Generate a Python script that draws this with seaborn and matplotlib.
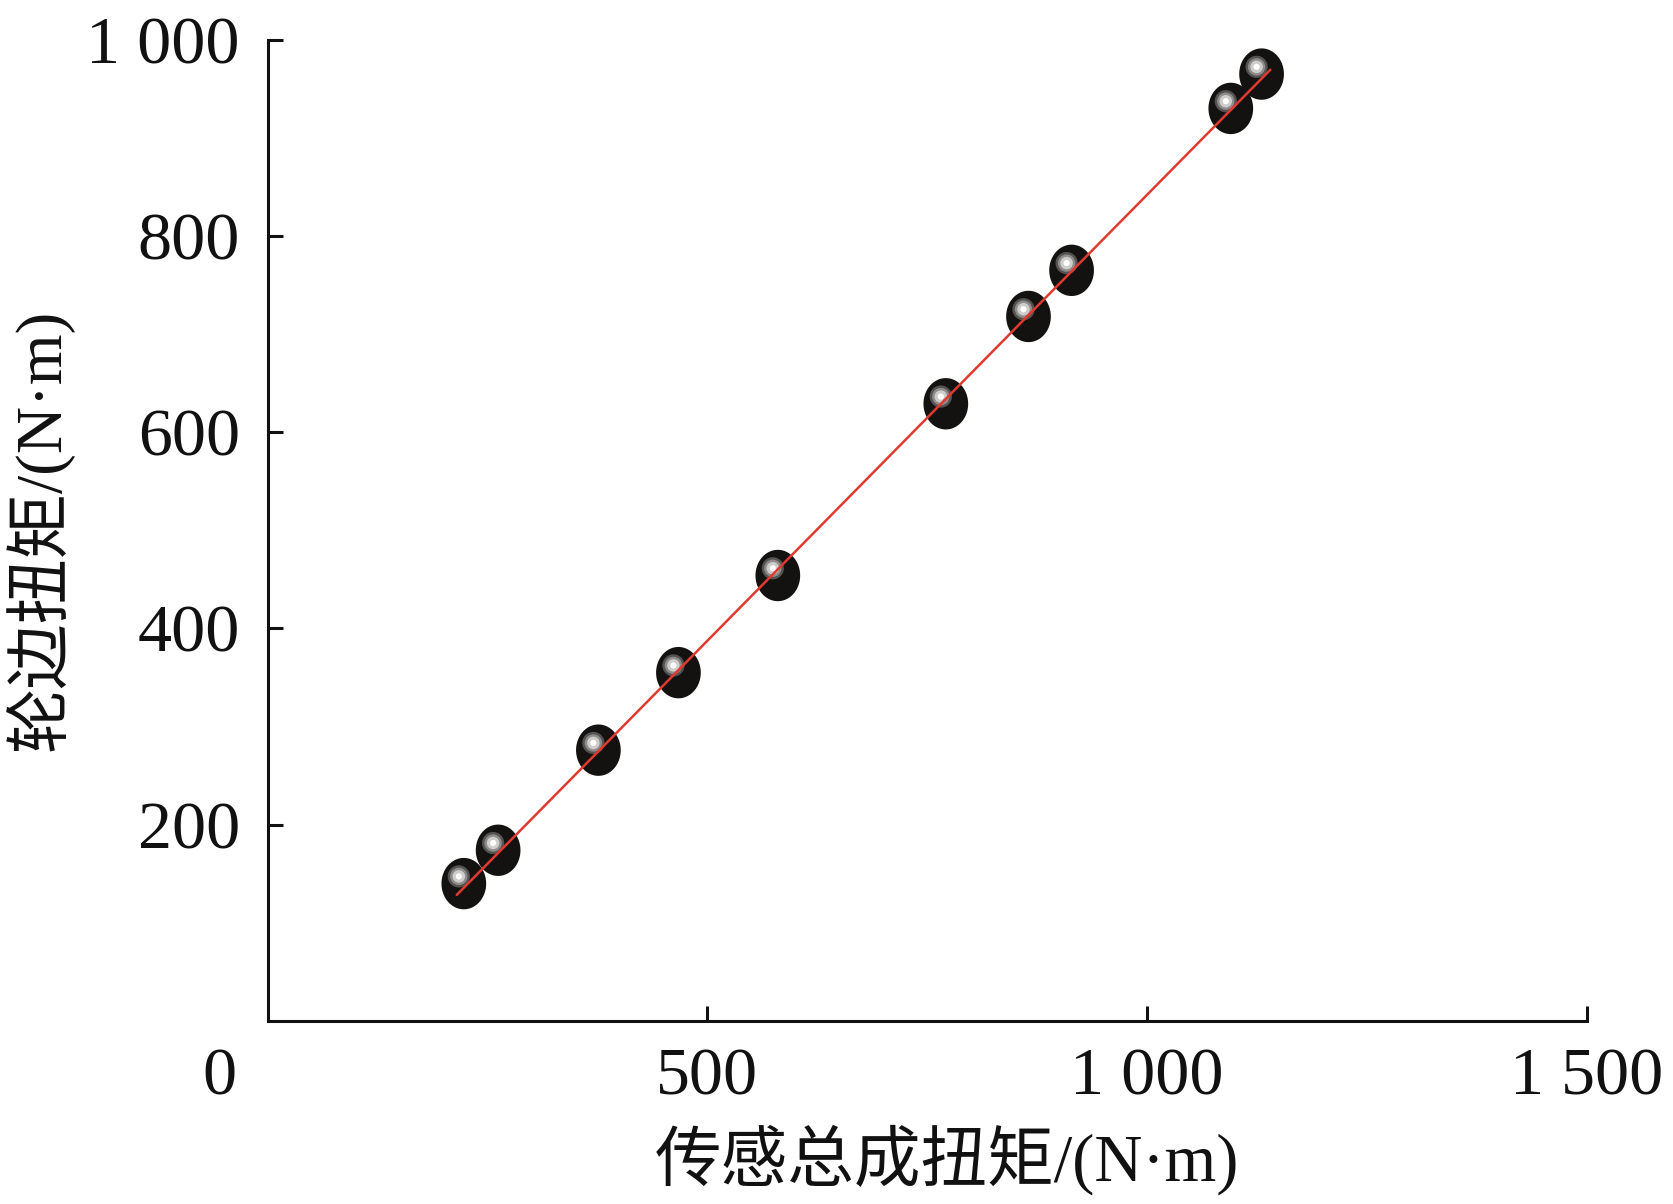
import numpy as np
import pandas as pd
import matplotlib
matplotlib.use("Agg")
import matplotlib.pyplot as plt
import matplotlib.transforms as mtransforms
from matplotlib.path import Path
import seaborn as sns

# ============ DATA ============
sensor_torque = [223, 262, 376, 467, 580, 771, 865, 914, 1095, 1130]
wheel_torque = [140, 174, 276, 355, 454, 629, 718, 765, 930, 965]
fit_x_range = [215, 1140]
x_ticks = [500, 1000, 1500]
x_tick_labels = ["500", "1 000", "1 500"]
y_ticks = [200, 400, 600, 800, 1000]
y_tick_labels = ["200", "400", "600", "800", "1 000"]
x_label = "传感总成扭矩/(N·m)"
y_label = "轮边扭矩/(N·m)"

df = pd.DataFrame({"sensor": sensor_torque, "wheel": wheel_torque})

# linear fit
slope, intercept = np.polyfit(df["sensor"], df["wheel"], 1)
fit_df = pd.DataFrame({"x": fit_x_range})
fit_df["y"] = slope * fit_df["x"] + intercept

# ============ STYLE ============
sns.set_style("white")
fonts = ["Liberation Serif", "Noto Sans CJK SC", "DejaVu Sans"]
plt.rcParams["font.family"] = fonts
plt.rcParams["text.color"] = "#111111"
plt.rcParams["xtick.color"] = "#111111"
plt.rcParams["ytick.color"] = "#111111"
plt.rcParams["axes.labelcolor"] = "#111111"

fig = plt.figure(figsize=(16.73, 12.04), dpi=100)
ax = fig.add_axes([0.160, 0.152, 0.7886, 0.815])

# ellipse marker (taller than wide)
t = np.linspace(0, 2 * np.pi, 60)
ellipse = Path(np.column_stack([0.87 * np.cos(t), np.sin(t)]))

sns.scatterplot(data=df, x="sensor", y="wheel", marker=ellipse, s=37 ** 2,
                color="#141210", edgecolor="none", ax=ax, zorder=2)

# glossy highlight, offset up-left of each marker
hl = mtransforms.offset_copy(ax.transData, fig=fig, x=-3.6, y=5.2, units="points")
for size, col in [(16, "#555351"), (12.5, "#8f8d8b"), (9, "#cfcdcb"), (4.5, "#ffffff")]:
    ax.scatter(df["sensor"], df["wheel"], s=size ** 2, color=col,
               edgecolor="none", transform=hl, zorder=3)

sns.lineplot(data=fit_df, x="x", y="y", color="#e03a30", linewidth=1.8,
             ax=ax, zorder=4)

# ============ AXES ============
ax.set_xlim(0, 1500)
ax.set_ylim(0, 1000)
ax.set_xticks(x_ticks)
ax.set_xticklabels(x_tick_labels)
ax.set_yticks(y_ticks)
ax.set_yticklabels(y_tick_labels)
ax.tick_params(direction="in", length=11, width=2.2,
               labelsize=49, pad=19, bottom=True, left=True)
ax.tick_params(axis="y", pad=20)

for side in ["top", "right"]:
    ax.spines[side].set_visible(False)
for side in ["left", "bottom"]:
    ax.spines[side].set_linewidth(2.2)
    ax.spines[side].set_color("#111111")

ax.annotate("0", xy=(0, 0), xycoords="data", xytext=(-35, -19),
            textcoords="offset points", ha="center", va="top", fontsize=49)

ax.set_xlabel(x_label, fontsize=48)
ax.set_ylabel(y_label, fontsize=47)
ax.xaxis.set_label_coords(0.515, -0.105)
ax.yaxis.set_label_coords(-0.147, 0.5)

fig.savefig("out.png", dpi=100)
